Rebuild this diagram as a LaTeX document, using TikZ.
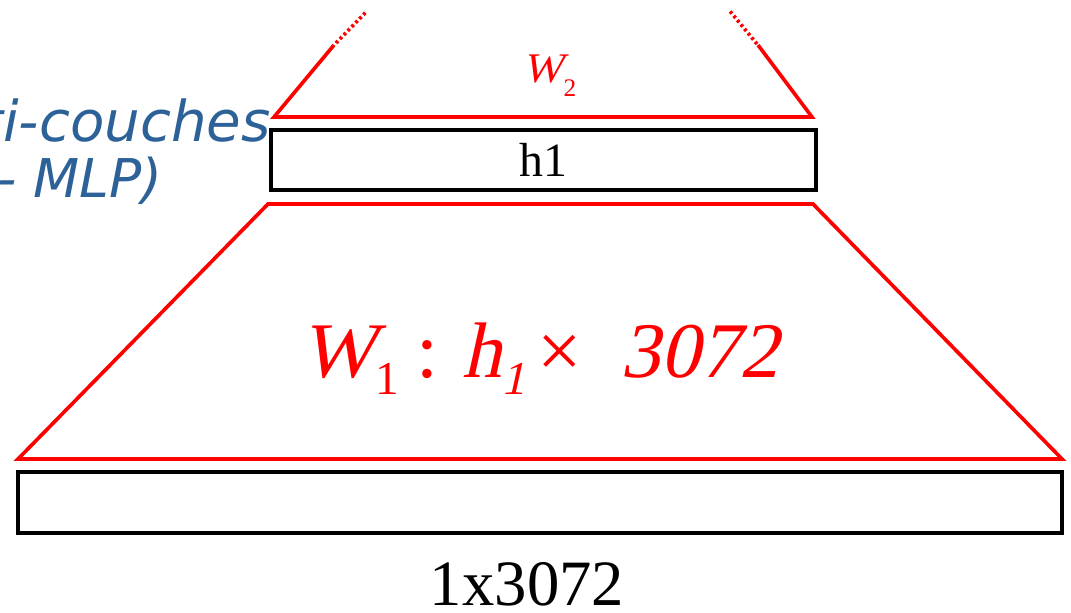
\documentclass[tikz,border=0pt]{standalone}
\usepackage{fontspec}
\setmainfont{Liberation Serif}
\newfontfamily\slantfont{Liberation Serif}[FakeSlant=0.22]
\newfontfamily\mlpfont{DejaVu Sans}
\usetikzlibrary{positioning}
\definecolor{mlpblue}{RGB}{45,98,152}
\newcommand{\wsub}[3][0.35em]{{\slantfont #2}\raisebox{-#1}{\scalebox{0.6}{#3}}}

\begin{document}
\begin{tikzpicture}[
  x=0.025cm,
  y=-0.025cm,
  layer/.style={draw=black, line width=2.6pt, minimum height=1.5cm, inner sep=0pt},
  weights/.style={red, line width=2.6pt, line join=miter},
  fade/.style={red, line width=2.6pt, dash pattern=on 2pt off 2pt},
  wlabel/.style={red, anchor=base},
  title/.style={mlpblue, anchor=base east, inner sep=0pt, font=\mlpfont\itshape\fontsize{38}{44}\selectfont}
]
  \useasboundingbox (0,0) rectangle (1071,612);
  \clip (0,0) rectangle (1071,612);

  % Input vector and hidden layer.
  \node[layer, minimum width=26.1cm, minimum height=1.525cm] (input) at (540,502.5) {};
  \node[anchor=base, font=\fontsize{46}{50}\selectfont] (insize) at (527,605) {1x3072};
  \node[layer, minimum width=13.625cm, font=\fontsize{34}{38}\selectfont] (h1) at (543.5,160) {h1};

  % Weights between input and h1.
  \draw[weights] (18,459) -- (268,204) -- (813,204) -- (1062,459) -- cycle;
  \node[wlabel, font=\fontsize{56}{60}\selectfont] (w1) at (540,377)
    {\wsub[0.22em]{W}{1}\hspace{0.22em}:\hspace{0.3em}{\slantfont h}\raisebox{-0.22em}{\scalebox{0.6}{\slantfont 1}}\hspace{0.15em}\texttimes\hspace{0.5em}{\slantfont 3072}};

  % Weights above h1, fading out.
  \draw[weights] (334,45) -- (274,117) -- (812,117) -- (758,45);
  \draw[fade] (336,43) -- (367,11);
  \draw[fade] (757,44) -- (729,10);
  \node[wlabel, font=\fontsize{30}{34}\selectfont] (w2) at (550,82) {\wsub{W}{2}};

  % Partly hidden title on the left.
  \node[title, font=\mlpfont\itshape\fontsize{40}{46}\selectfont] (t1) at (271,141) {Perceptron multi-couches};
  \node[title] (t2) at (163,197) {(Multi-Layer Perceptron - MLP)};
\end{tikzpicture}
\end{document}
